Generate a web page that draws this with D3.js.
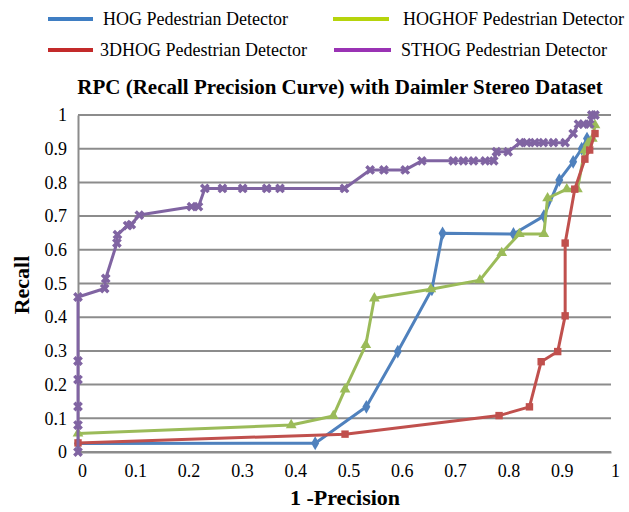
<!DOCTYPE html>
<html>
<head>
<meta charset="utf-8">
<script src="https://cdn.jsdelivr.net/npm/d3@7"></script>
<style>
  html, body { margin: 0; padding: 0; background: #fff; }
  svg { display: block; }
  text { font-family: "Liberation Serif", "Times New Roman", serif; fill: #000; }
</style>
</head>
<body>
<svg id="chart" width="629" height="512"></svg>
<script>
// Recall vs (1 - precision) for four pedestrian detectors
const seriesNames = ["HOG Pedestrian Detector", "HOGHOF Pedestrian Detector",
                     "3DHOG Pedestrian Detector", "STHOG Pedestrian Detector"];

const hogFpr    = [0, 0.445, 0.541, 0.600, 0.664, 0.684, 0.817, 0.874, 0.903, 0.929, 0.945, 0.955];
const hogRecall = [0.025, 0.026, 0.134, 0.298, 0.483, 0.649, 0.647, 0.700, 0.807, 0.861, 0.900, 0.930];

const hoghofFpr    = [0, 0.400, 0.479, 0.501, 0.540, 0.556, 0.662, 0.754, 0.795, 0.828, 0.874, 0.881, 0.917, 0.937, 0.951, 0.957, 0.965, 0.970];
const hoghofRecall = [0.055, 0.080, 0.107, 0.186, 0.318, 0.456, 0.483, 0.510, 0.591, 0.647, 0.647, 0.753, 0.780, 0.780, 0.896, 0.916, 0.930, 0.970];

const hog3dFpr    = [0, 0.501, 0.790, 0.847, 0.869, 0.900, 0.914, 0.914, 0.932, 0.951, 0.960, 0.970];
const hog3dRecall = [0.027, 0.053, 0.108, 0.134, 0.268, 0.298, 0.404, 0.620, 0.780, 0.869, 0.896, 0.945];

const sthogFpr = [0, 0, 0, 0, 0, 0, 0.050, 0.052, 0.073, 0.074, 0.093, 0.100, 0.115, 0.213, 0.226,
                  0.238, 0.271, 0.309, 0.354, 0.379, 0.500, 0.548, 0.574, 0.614, 0.645, 0.704,
                  0.723, 0.742, 0.764, 0.780, 0.785, 0.807, 0.829, 0.842, 0.857, 0.873, 0.892,
                  0.914, 0.929, 0.939, 0.948, 0.960, 0.964, 0.970];
const sthogRecall = [0, 0.080, 0.135, 0.215, 0.270, 0.460, 0.485, 0.515, 0.620, 0.645, 0.672, 0.675,
                     0.703, 0.728, 0.728, 0.782, 0.782, 0.782, 0.782, 0.782, 0.782, 0.837, 0.837,
                     0.837, 0.864, 0.864, 0.864, 0.864, 0.864, 0.864, 0.891, 0.891, 0.918, 0.918,
                     0.918, 0.918, 0.918, 0.918, 0.945, 0.973, 0.973, 0.973, 1.000, 1.000];

const xTicks = [0, 0.1, 0.2, 0.3, 0.4, 0.5, 0.6, 0.7, 0.8, 0.9, 1];
const yTicks = [0, 0.1, 0.2, 0.3, 0.4, 0.5, 0.6, 0.7, 0.8, 0.9, 1];

const lineColors   = ["#4f81bd", "#9bbb59", "#c0504d", "#8064a2"];
const legendColors = ["#3f7ec3", "#b6d40c", "#c32a2a", "#9a33b4"];

const zip = (xs, ys) => xs.map((x, i) => ({ x, y: ys[i] }));
const series = [
  { name: seriesNames[0], pts: zip(hogFpr, hogRecall),       color: lineColors[0], symbol: d3.symbolDiamond,  size: 55, rot: 0 },
  { name: seriesNames[1], pts: zip(hoghofFpr, hoghofRecall), color: lineColors[1], symbol: d3.symbolTriangle, size: 50, rot: 0 },
  { name: seriesNames[2], pts: zip(hog3dFpr, hog3dRecall),   color: lineColors[2], symbol: d3.symbolSquare,   size: 55, rot: 0 },
  { name: seriesNames[3], pts: zip(sthogFpr, sthogRecall),   color: lineColors[3], symbol: d3.symbolCross,    size: 60, rot: 45 }
];

const svg = d3.select("#chart");
const plot = { left: 78, right: 611, top: 115, bottom: 452 };

const x = d3.scaleLinear().domain([0, 1]).range([plot.left, plot.right]);
const y = d3.scaleLinear().domain([0, 1]).range([plot.bottom, plot.top]);

// Horizontal gridlines
svg.append("g")
  .selectAll("line")
  .data(yTicks)
  .join("line")
  .attr("x1", plot.left).attr("x2", plot.right)
  .attr("y1", d => y(d)).attr("y2", d => y(d))
  .attr("stroke", "#8c8c8c").attr("stroke-width", 2);

// Y axis
const yAxis = svg.append("g")
  .attr("transform", `translate(${plot.left},0)`)
  .call(d3.axisLeft(y).tickValues(yTicks).tickFormat(d => String(+d.toFixed(1))).tickSize(0).tickPadding(11));
yAxis.select(".domain").attr("stroke", "#8c8c8c").attr("stroke-width", 2);
yAxis.selectAll("text").style("font-size", "18px").style("font-family", "Liberation Serif");

// X axis
const xAxis = svg.append("g")
  .attr("transform", `translate(0,${plot.bottom})`)
  .call(d3.axisBottom(x).tickValues(xTicks).tickFormat(d => String(+d.toFixed(1))).tickSize(0).tickPadding(12));
xAxis.select(".domain").attr("stroke", "#8c8c8c").attr("stroke-width", 2);
xAxis.selectAll("text").style("font-size", "18px").style("font-family", "Liberation Serif").attr("dx", 4);

// Series lines and markers
const line = d3.line().x(d => x(d.x)).y(d => y(d.y));
series.forEach(s => {
  const g = svg.append("g");
  g.append("path")
    .datum(s.pts)
    .attr("d", line)
    .attr("fill", "none")
    .attr("stroke", s.color)
    .attr("stroke-width", 3)
    .attr("stroke-linejoin", "round");
  g.selectAll("path.mk")
    .data(s.pts)
    .join("path")
    .attr("class", "mk")
    .attr("d", d3.symbol().type(s.symbol).size(s.size))
    .attr("transform", d => `translate(${x(d.x)},${y(d.y)}) rotate(${s.rot})`)
    .attr("fill", s.color);
});

// Title and axis titles
svg.append("text")
  .attr("x", 340).attr("y", 94)
  .attr("text-anchor", "middle")
  .style("font-size", "21px").style("font-weight", "bold")
  .text("RPC (Recall Precision Curve) with Daimler Stereo Dataset");

svg.append("text")
  .attr("x", 345).attr("y", 505)
  .attr("text-anchor", "middle")
  .style("font-size", "22px").style("font-weight", "bold")
  .text("1 -Precision");

svg.append("text")
  .attr("transform", "translate(29,285) rotate(-90)")
  .attr("text-anchor", "middle")
  .style("font-size", "22px").style("font-weight", "bold")
  .text("Recall");

// Legend: two rows of two entries
const legendPos = [
  { lx1: 48, lx2: 93, tx: 103, y: 19 },
  { lx1: 333, lx2: 389, tx: 403, y: 19 },
  { lx1: 48, lx2: 93, tx: 100, y: 50 },
  { lx1: 334, lx2: 391, tx: 401, y: 50 }
];
const legend = svg.append("g");
seriesNames.forEach((name, i) => {
  const p = legendPos[i];
  legend.append("line")
    .attr("x1", p.lx1).attr("x2", p.lx2)
    .attr("y1", p.y).attr("y2", p.y)
    .attr("stroke", legendColors[i]).attr("stroke-width", 4);
  legend.append("text")
    .attr("x", p.tx).attr("y", p.y + 6)
    .style("font-size", "18px")
    .text(name);
});
</script>
</body>
</html>
